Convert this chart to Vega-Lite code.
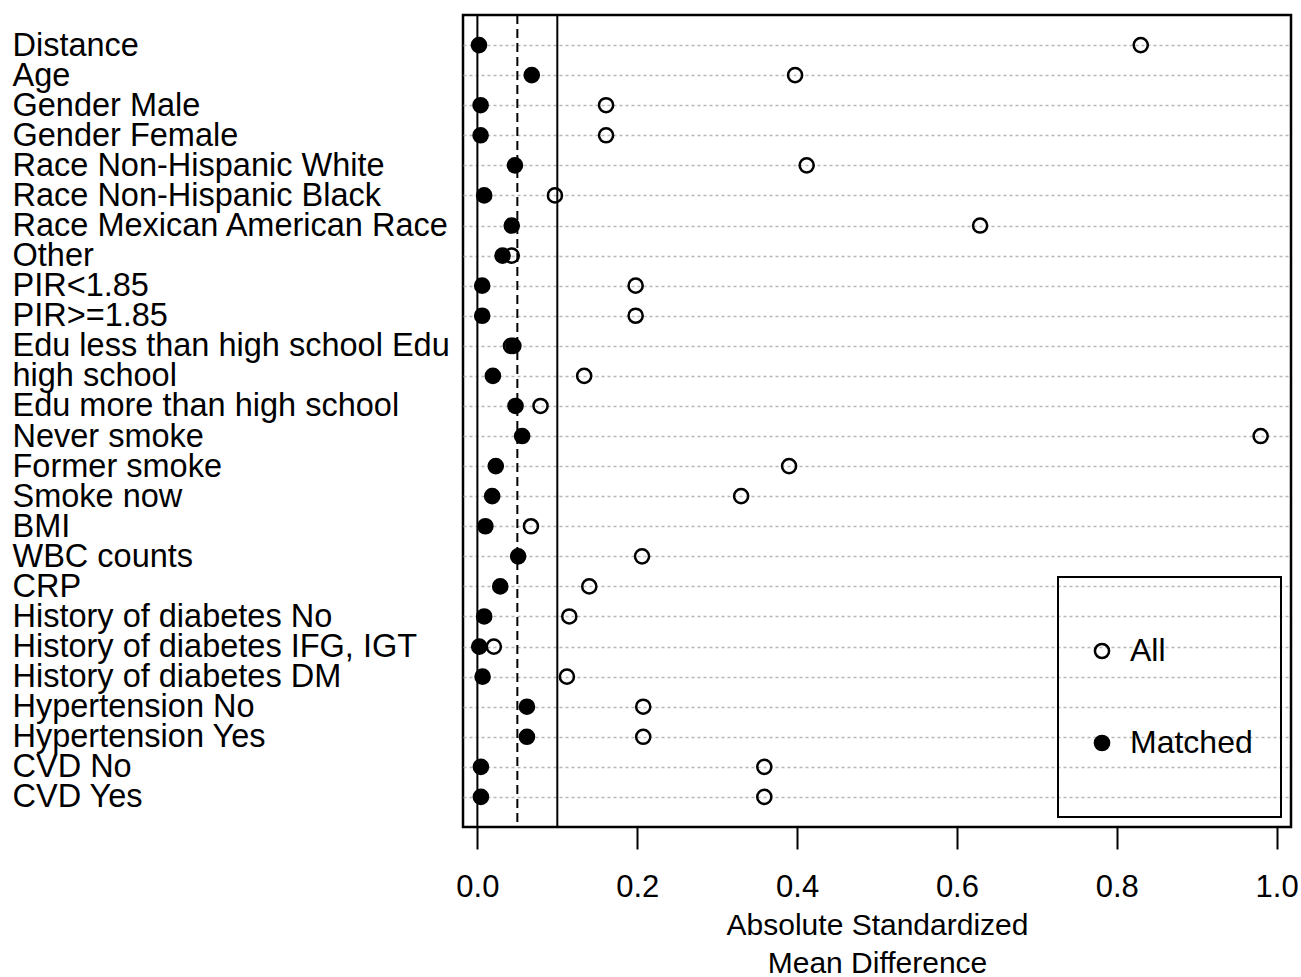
{
  "$schema": "https://vega.github.io/schema/vega-lite/v6.json",
  "width": 828,
  "height": 812,
  "padding": {"left": 12, "top": 14, "right": 5, "bottom": 0},
  "background": "white",
  "config": {
    "font": "Liberation Sans",
    "view": {"stroke": "black", "strokeWidth": 2.5},
    "legend": {"strokeWidth": 2}
  },
  "layer": [
    {
      "data": {"values": [{"value": 0}, {"value": 0.1}]},
      "mark": {"type": "rule", "color": "black", "strokeWidth": 2},
      "encoding": {
        "x": {
          "field": "value", "type": "quantitative",
          "scale": {"domain": [-0.018, 1.018], "nice": false, "zero": false},
          "title": ["Absolute Standardized", "Mean Difference"],
          "axis": {
            "values": [0, 0.2, 0.4, 0.6, 0.8, 1], "format": ".1f",
            "grid": false, "domain": false,
            "tickSize": 22, "tickWidth": 2, "tickColor": "black",
            "labelFontSize": 31, "labelColor": "black", "labelPadding": 23,
            "labelFlush": false, "labelOverlap": false,
            "titleFontSize": 30, "titleFontWeight": "normal", "titleColor": "black",
            "titlePadding": 8, "titleLineHeight": 38
          }
        }
      }
    },
    {
      "data": {"values": [{"value": 0.05}]},
      "mark": {"type": "rule", "color": "black", "strokeWidth": 2, "strokeDash": [9, 5]},
      "encoding": {
        "x": {
          "field": "value", "type": "quantitative",
          "scale": {"domain": [-0.018, 1.018], "nice": false, "zero": false},
          "title": ["Absolute Standardized", "Mean Difference"],
          "axis": {
            "values": [0, 0.2, 0.4, 0.6, 0.8, 1], "format": ".1f",
            "grid": false, "domain": false,
            "tickSize": 22, "tickWidth": 2, "tickColor": "black",
            "labelFontSize": 31, "labelColor": "black", "labelPadding": 23,
            "labelFlush": false, "labelOverlap": false,
            "titleFontSize": 30, "titleFontWeight": "normal", "titleColor": "black",
            "titlePadding": 8, "titleLineHeight": 38
          }
        }
      }
    },
    {
      "data": {"values": [
        {"var": "Distance", "group": "All", "value": 0.83},
        {"var": "Age", "group": "All", "value": 0.3975},
        {"var": "Gender Male", "group": "All", "value": 0.161},
        {"var": "Gender Female", "group": "All", "value": 0.161},
        {"var": "Race Non-Hispanic White", "group": "All", "value": 0.412},
        {"var": "Race Non-Hispanic Black", "group": "All", "value": 0.097},
        {"var": "Race Mexican American Race", "group": "All", "value": 0.629},
        {"var": "Other", "group": "All", "value": 0.043},
        {"var": "PIR<1.85", "group": "All", "value": 0.198},
        {"var": "PIR>=1.85", "group": "All", "value": 0.198},
        {"var": "Edu less than high school Edu", "group": "All", "value": 0.042},
        {"var": "high school", "group": "All", "value": 0.1336},
        {"var": "Edu more than high school", "group": "All", "value": 0.079},
        {"var": "Never smoke", "group": "All", "value": 0.98},
        {"var": "Former smoke", "group": "All", "value": 0.39},
        {"var": "Smoke now", "group": "All", "value": 0.33},
        {"var": "BMI", "group": "All", "value": 0.067},
        {"var": "WBC counts", "group": "All", "value": 0.206},
        {"var": "CRP", "group": "All", "value": 0.14},
        {"var": "History of diabetes No", "group": "All", "value": 0.115},
        {"var": "History of diabetes IFG, IGT", "group": "All", "value": 0.0206},
        {"var": "History of diabetes DM", "group": "All", "value": 0.112},
        {"var": "Hypertension No", "group": "All", "value": 0.2075},
        {"var": "Hypertension Yes", "group": "All", "value": 0.2075},
        {"var": "CVD No", "group": "All", "value": 0.359},
        {"var": "CVD Yes", "group": "All", "value": 0.359},
        {"var": "Distance", "group": "Matched", "value": 0.002},
        {"var": "Age", "group": "Matched", "value": 0.068},
        {"var": "Gender Male", "group": "Matched", "value": 0.004},
        {"var": "Gender Female", "group": "Matched", "value": 0.004},
        {"var": "Race Non-Hispanic White", "group": "Matched", "value": 0.047},
        {"var": "Race Non-Hispanic Black", "group": "Matched", "value": 0.0085},
        {"var": "Race Mexican American Race", "group": "Matched", "value": 0.043},
        {"var": "Other", "group": "Matched", "value": 0.0315},
        {"var": "PIR<1.85", "group": "Matched", "value": 0.006},
        {"var": "PIR>=1.85", "group": "Matched", "value": 0.006},
        {"var": "Edu less than high school Edu", "group": "Matched", "value": 0.045},
        {"var": "high school", "group": "Matched", "value": 0.0194},
        {"var": "Edu more than high school", "group": "Matched", "value": 0.0477},
        {"var": "Never smoke", "group": "Matched", "value": 0.056},
        {"var": "Former smoke", "group": "Matched", "value": 0.023},
        {"var": "Smoke now", "group": "Matched", "value": 0.0185},
        {"var": "BMI", "group": "Matched", "value": 0.01},
        {"var": "WBC counts", "group": "Matched", "value": 0.051},
        {"var": "CRP", "group": "Matched", "value": 0.0286},
        {"var": "History of diabetes No", "group": "Matched", "value": 0.0085},
        {"var": "History of diabetes IFG, IGT", "group": "Matched", "value": 0.0023},
        {"var": "History of diabetes DM", "group": "Matched", "value": 0.0065},
        {"var": "Hypertension No", "group": "Matched", "value": 0.062},
        {"var": "Hypertension Yes", "group": "Matched", "value": 0.062},
        {"var": "CVD No", "group": "Matched", "value": 0.0044},
        {"var": "CVD Yes", "group": "Matched", "value": 0.0044}
      ]},
      "mark": {"type": "point", "filled": true, "stroke": "black", "strokeWidth": 2.5, "size": 200, "opacity": 1},
      "encoding": {
        "x": {
          "field": "value", "type": "quantitative",
          "scale": {"domain": [-0.018, 1.018], "nice": false, "zero": false},
          "title": ["Absolute Standardized", "Mean Difference"],
          "axis": {
            "values": [0, 0.2, 0.4, 0.6, 0.8, 1], "format": ".1f",
            "grid": false, "domain": false,
            "tickSize": 22, "tickWidth": 2, "tickColor": "black",
            "labelFontSize": 31, "labelColor": "black", "labelPadding": 23,
            "labelFlush": false, "labelOverlap": false,
            "titleFontSize": 30, "titleFontWeight": "normal", "titleColor": "black",
            "titlePadding": 8, "titleLineHeight": 38
          }
        },
        "y": {
          "field": "var", "type": "nominal", "sort": null,
          "scale": {"type": "point", "padding": 1},
          "axis": {
            "title": null, "labelAlign": "left", "labelPadding": 451, "labelFontSize": 32.5,
            "labelColor": "black", "labelLimit": 0, "ticks": false, "tickSize": 0, "domain": false,
            "grid": true, "gridColor": "#b8b8b8", "gridDash": [3, 3], "gridWidth": 1.5
          }
        },
        "fill": {
          "field": "group", "type": "nominal",
          "scale": {"domain": ["All", "Matched"], "range": ["transparent", "black"]},
          "legend": {
            "title": null, "orient": "bottom-right", "offset": 10,
            "strokeColor": "black", "padding": 28,
            "symbolType": "circle", "symbolSize": 200, "symbolStrokeColor": "black", "symbolStrokeWidth": 2.5,
            "labelFontSize": 32, "labelColor": "black", "labelOffset": 12,
            "clipHeight": 92, "rowPadding": 0
          }
        }
      }
    }
  ]
}
